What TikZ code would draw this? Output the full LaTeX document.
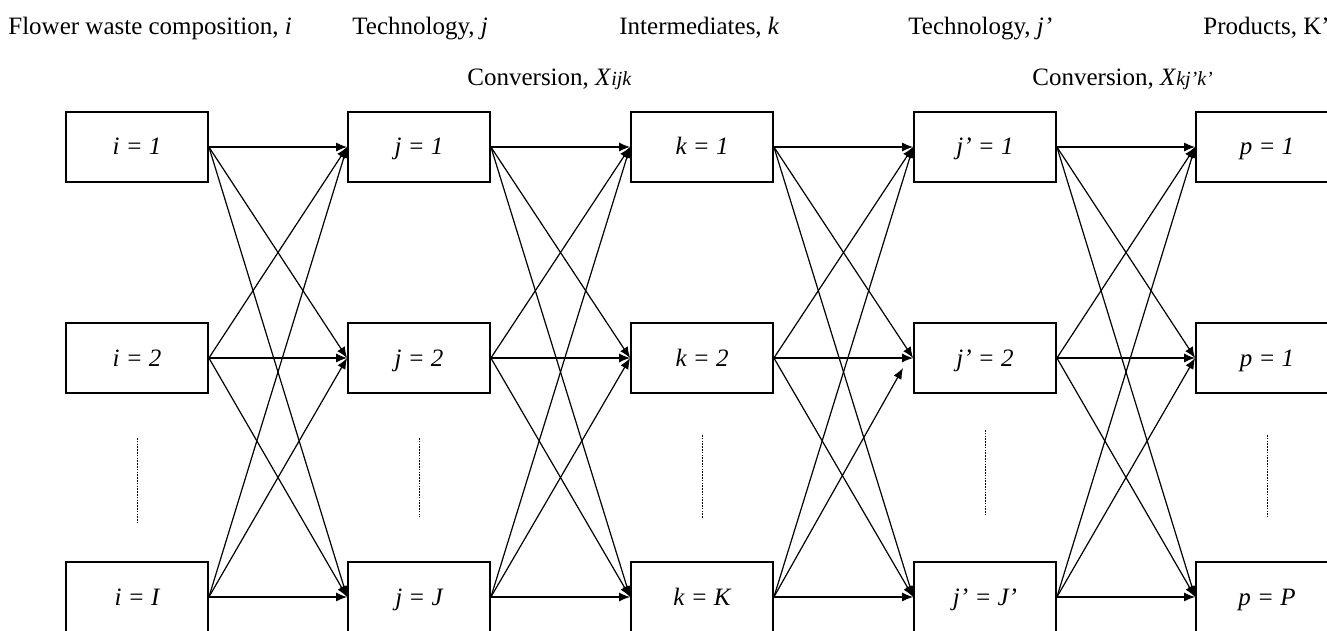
\documentclass[tikz,border=0pt]{standalone}
\usepackage{fontspec}
\setmainfont{Liberation Serif}
\usetikzlibrary{arrows.meta}
\begin{document}
\begin{tikzpicture}[x=0.5pt,y=-0.5pt,
  font=\fontsize{12.5}{14}\selectfont,
  box/.style={draw, line width=0.9pt, minimum width=71pt, minimum height=35pt, inner sep=0pt, text height=10.5pt, text depth=2.5pt, font=\fontsize{12.5}{14}\selectfont\itshape},
  conn/.style={line width=0.6pt, -{Latex[length=5.5pt,width=4.5pt]}},
  dots/.style={line width=0.5pt, dash pattern=on 0.8pt off 0.6pt},
  lbl/.style={anchor=base west, inner sep=0pt}]
\useasboundingbox (0,0) rectangle (1327,631);
\clip (0,0) rectangle (1327,631);
% labels
\node[lbl] (l1) at (8,35) {Flower waste composition, \textit{i}};
\node[lbl] (l2) at (352,35) {Technology, \textit{j}};
\node[lbl] (l3) at (619,35) {Intermediates, \textit{k}};
\node[lbl] (l4) at (908,35) {Technology, \textit{j'}};
\node[lbl] (l5) at (1203,35) {Products, K'};
\node[lbl] (l6) at (467,86) {Conversion, \textit{X}{\fontsize{10}{11}\selectfont\itshape ijk}};
\node[lbl] (l7) at (1032,86) {Conversion, \textit{X}{\fontsize{10}{11}\selectfont\itshape kj'k'}};
% boxes
\node[box] (a1) at (137,147) {i = 1};
\node[box] (a2) at (137,358) {i = 2};
\node[box] (a3) at (137,597) {i = I};
\node[box] (b1) at (419,147) {j = 1};
\node[box] (b2) at (419,358) {j = 2};
\node[box] (b3) at (419,597) {j = J};
\node[box] (c1) at (702,147) {k = 1};
\node[box] (c2) at (702,358) {k = 2};
\node[box] (c3) at (702,597) {k = K};
\node[box] (d1) at (985,147) {j' = 1};
\node[box] (d2) at (985,358) {j' = 2};
\node[box] (d3) at (985,597) {j' = J'};
\node[box] (e1) at (1267,147) {p = 1};
\node[box] (e2) at (1267,358) {p = 1};
\node[box] (e3) at (1267,597) {p = P};
\coordinate (short) at (903,368);
% connectors
\foreach \s/\t in {a/b,b/c,d/e}
  \foreach \m in {1,2,3}
    \foreach \n in {1,2,3}
      \draw[conn] (\s\m.east) -- (\t\n.west);
\foreach \m/\n in {1/1,1/2,1/3,2/1,2/2,2/3,3/1,3/3}
  \draw[conn] (c\m.east) -- (d\n.west);
\draw[conn] (c3.east) -- (short);
% dotted
\draw[dots] (137,438) -- (137,523);
\draw[dots] (419,438) -- (419,517);
\draw[dots] (702,435) -- (702,518);
\draw[dots] (985,430) -- (985,515);
\draw[dots] (1267,435) -- (1267,517);
\end{tikzpicture}
\end{document}
